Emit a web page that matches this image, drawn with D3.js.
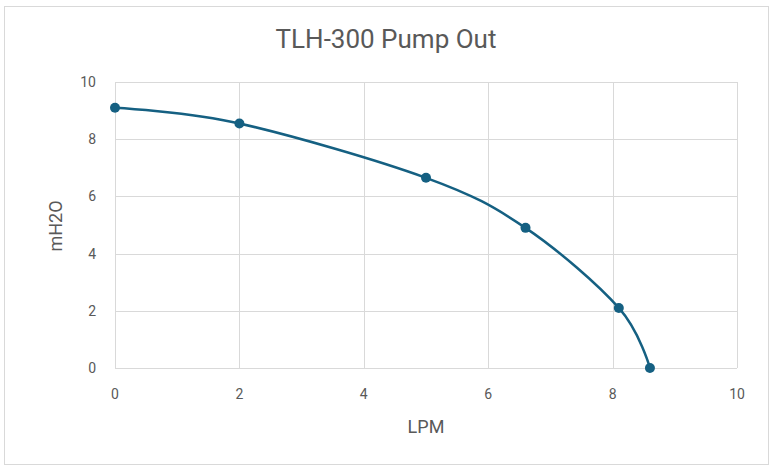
<!DOCTYPE html>
<html>
<head>
<meta charset="utf-8">
<script src="https://cdn.jsdelivr.net/npm/d3@7"></script>
<style>
  body { margin: 0; background: #fff; }
  text { font-family: Roboto, "Liberation Sans", sans-serif; fill: #595959; }
</style>
</head>
<body>
<svg class="container"></svg>
<script>
const flow = [0, 2, 5, 6.6, 8.1, 8.6];
const head = [9.1, 8.55, 6.65, 4.9, 2.1, 0];
const xTicks = [0, 2, 4, 6, 8, 10];
const yTicks = [0, 2, 4, 6, 8, 10];

const width = 773;
const height = 469;
const plotLeft = 115, plotRight = 737, plotTop = 82, plotBottom = 368;

const svg = d3.select(".container").attr("width", width).attr("height", height);

// chart border
svg.append("rect")
  .attr("x", 4.5).attr("y", 6.5)
  .attr("width", 764).attr("height", 458)
  .attr("fill", "#fff").attr("stroke", "#d9d9d9");

const xScale = d3.scaleLinear().domain([0, 10]).range([plotLeft, plotRight]);
const yScale = d3.scaleLinear().domain([0, 10]).range([plotBottom, plotTop]);

// gridlines
svg.selectAll(".hgrid").data(yTicks).enter().append("line")
  .attr("x1", plotLeft).attr("x2", plotRight)
  .attr("y1", (d) => Math.round(yScale(d)) + 0.5)
  .attr("y2", (d) => Math.round(yScale(d)) + 0.5)
  .attr("stroke", "#d9d9d9");
svg.selectAll(".vgrid").data(xTicks).enter().append("line")
  .attr("y1", plotTop).attr("y2", plotBottom)
  .attr("x1", (d) => Math.round(xScale(d)) + 0.5)
  .attr("x2", (d) => Math.round(xScale(d)) + 0.5)
  .attr("stroke", "#d9d9d9");

// tick labels
svg.selectAll(".xlab").data(xTicks).enter().append("text")
  .attr("x", (d) => xScale(d)).attr("y", plotBottom + 31)
  .attr("text-anchor", "middle").attr("font-size", 14)
  .text((d) => d);
svg.selectAll(".ylab").data(yTicks).enter().append("text")
  .attr("x", plotLeft - 19).attr("y", (d) => yScale(d) + 5)
  .attr("text-anchor", "end").attr("font-size", 14)
  .text((d) => d);

// titles
svg.append("text").attr("x", 386).attr("y", 48)
  .attr("text-anchor", "middle").attr("font-size", 26)
  .text("TLH-300 Pump Out");
svg.append("text").attr("x", 426).attr("y", 433)
  .attr("text-anchor", "middle").attr("font-size", 18)
  .text("LPM");
svg.append("text")
  .attr("transform", "translate(62,226) rotate(-90)")
  .attr("text-anchor", "middle").attr("font-size", 18)
  .text("mH2O");

const pts = flow.map((f, i) => [f, head[i]]);
const line = d3.line()
  .x((d) => xScale(d[0]))
  .y((d) => yScale(d[1]))
  .curve(d3.curveCardinal);

svg.append("path").datum(pts)
  .attr("d", line)
  .attr("fill", "none").attr("stroke", "#156082").attr("stroke-width", 2.5);

svg.selectAll("circle").data(pts).enter().append("circle")
  .attr("cx", (d) => xScale(d[0]))
  .attr("cy", (d) => yScale(d[1]))
  .attr("r", 5)
  .attr("fill", "#156082");
</script>
</body>
</html>
